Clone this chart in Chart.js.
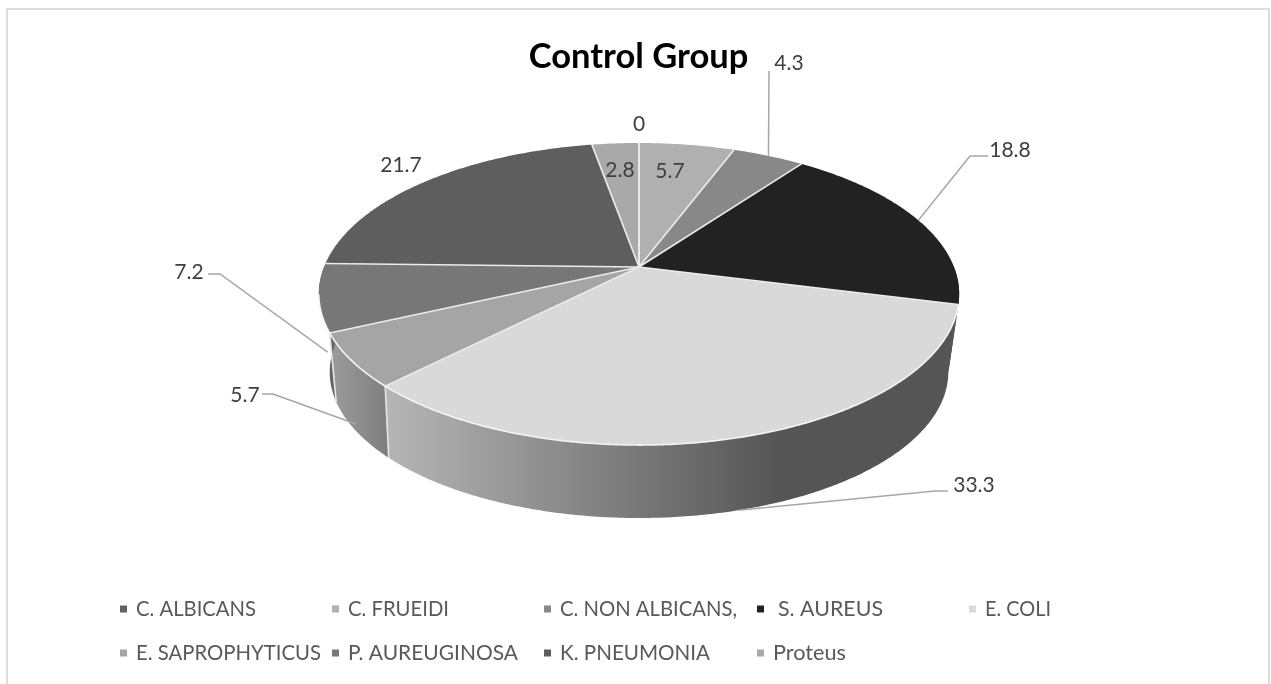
<!DOCTYPE html>
<html>
<head>
<meta charset="utf-8">
<title>Control Group</title>
<script src="https://cdn.jsdelivr.net/npm/chart.js@4"></script>
<style>
  html, body { margin: 0; padding: 0; background: #fff; overflow: hidden; }
  canvas { display: block; }
</style>
</head>
<body>
<canvas id="chart" width="1271" height="684"></canvas>
<script>
// Organism shares in the control group
const organisms = ['C. ALBICANS', 'C. FRUEIDI', 'C. NON ALBICANS,', 'S. AUREUS', 'E. COLI',
                   'E. SAPROPHYTICUS', 'P. AUREUGINOSA', 'K. PNEUMONIA', 'Proteus'];
const shares = [0, 5.7, 4.3, 18.8, 33.3, 5.7, 7.2, 21.7, 2.8];
const sliceColors = ['#636363', '#b0b0b0', '#888888', '#222222', '#d9d9d9',
                     '#a5a5a5', '#777777', '#5e5e5e', '#a9a9a9'];
// Side wall shading, left colour to right colour
const wallColors = [null, null, null, ['#333333', '#333333'], ['#b6b6b6', '#555555'],
                    ['#9c9c9c', '#7e7e7e'], ['#5a5a5a', '#707070'], null, null];

// Tilted disc projection; the wall bottom fans outward slightly as it recedes
const disc = { cx: 639, cy: 267, a: 315, b: 146.2, p: 0.179, drop: 79, shrink: 0.966, fan: 4 * Math.PI / 180 };

// Label placement: leader anchor (wall fraction), elbow points and text centre
const labelLayout = [
  { text: [639, 124] },
  { text: [670, 171] },
  { text: [789, 63], wall: 0, path: [[769, 71]] },
  { text: [1010, 150], wall: 0, path: [[970, 156], [988, 156]] },
  { text: [974, 485], wall: 1, path: [[935, 491], [948, 491]] },
  { text: [245, 395], wall: 0.9, path: [[273, 394], [262, 394]] },
  { text: [189, 272], wall: 0.8, path: [[220, 274], [208, 274]] },
  { text: [401, 165] },
  { text: [620, 170] }
];

// Legend grid
const legendCols = [120, 332, 544, 757, 969];
const legendRows = [609, 653];
const legendGaps = [16, 16, 16, 21, 16, 16, 16, 16, 16];
const legendWidths = [120, 101, 177, 105, 66, 185, 170, 150, 73];

const FONT = 'Lato, Carlito, sans-serif';

function project(theta, wall) {
  const lean = Math.pow(Math.sin(theta - Math.PI), 3);
  const t = theta + disc.fan * lean * wall;
  const u = Math.sin(t), v = -Math.cos(t);
  const s = 1 + (disc.shrink - 1) * wall;
  const w = 1 - disc.p * v;
  return [disc.cx + s * disc.a * u / w, disc.cy + disc.drop * wall + s * disc.b * v / w];
}

function sliceAngles(arc) {
  return [arc.startAngle + Math.PI / 2, arc.endAngle + Math.PI / 2];
}

function rimPath(ctx, from, to, wall, move) {
  const steps = Math.max(2, Math.ceil(Math.abs(to - from) / 0.01));
  for (let i = 0; i <= steps; i++) {
    const [x, y] = project(from + (to - from) * i / steps, wall);
    if (i === 0 && move) ctx.moveTo(x, y); else ctx.lineTo(x, y);
  }
}

function fittedText(ctx, text, x, y, width) {
  const natural = ctx.measureText(text).width;
  ctx.save();
  ctx.translate(x, y);
  ctx.scale(width / natural, 1);
  ctx.textAlign = 'left';
  ctx.fillText(text, 0, 0);
  ctx.restore();
}

const tiltedPie = {
  id: 'tiltedPie',
  beforeDraw(chart) {
    const ctx = chart.ctx;
    ctx.save();
    ctx.strokeStyle = '#dcdcdc';
    ctx.lineWidth = 2;
    ctx.beginPath();
    ctx.moveTo(7, 684); ctx.lineTo(7, 9); ctx.lineTo(1269, 9); ctx.lineTo(1269, 684);
    ctx.stroke();
    ctx.restore();
  },
  beforeDatasetDraw(chart) {
    const ctx = chart.ctx;
    const arcs = chart.getDatasetMeta(0).data;
    const front = [Math.PI / 2, Math.PI * 1.5];
    ctx.save();

    // Side walls of the near half
    arcs.forEach((arc, i) => {
      const [s, e] = sliceAngles(arc);
      const from = Math.max(s, front[0]), to = Math.min(e, front[1]);
      if (to <= from || !wallColors[i]) return;
      const xs = [project(from, 0)[0], project(to, 0)[0], project(from, 1)[0], project(to, 1)[0]];
      const grad = ctx.createLinearGradient(Math.min(...xs), 0, Math.min(Math.max(...xs), 780), 0);
      grad.addColorStop(0, wallColors[i][0]);
      grad.addColorStop(1, wallColors[i][1]);
      ctx.beginPath();
      rimPath(ctx, from, to, 0, true);
      rimPath(ctx, to, from, 1, false);
      ctx.closePath();
      ctx.fillStyle = grad;
      ctx.fill();
    });

    // Light seams where walls meet
    ctx.strokeStyle = '#e6e6e6';
    ctx.lineWidth = 1.6;
    arcs.forEach((arc) => {
      const [, e] = sliceAngles(arc);
      if (e <= Math.PI + 0.6 || e >= front[1] - 0.1) return;
      ctx.beginPath();
      ctx.moveTo(...project(e, 0));
      ctx.lineTo(...project(e, 1));
      ctx.stroke();
    });

    // Top face
    arcs.forEach((arc, i) => {
      const [s, e] = sliceAngles(arc);
      if (e - s <= 0) return;
      ctx.beginPath();
      ctx.moveTo(disc.cx, disc.cy);
      rimPath(ctx, s, e, 0, false);
      ctx.closePath();
      ctx.fillStyle = sliceColors[i];
      ctx.fill();
    });

    // Spokes between slices and the bright near rim
    ctx.strokeStyle = '#ececec';
    ctx.lineWidth = 1.6;
    arcs.forEach((arc) => {
      const [s] = sliceAngles(arc);
      ctx.beginPath();
      ctx.moveTo(disc.cx, disc.cy);
      ctx.lineTo(...project(s, 0));
      ctx.stroke();
    });
    ctx.strokeStyle = '#f4f4f4';
    ctx.beginPath();
    rimPath(ctx, 1.82, 4.53, 0, true);
    ctx.stroke();
    ctx.restore();
    return false;
  },
  afterDatasetsDraw(chart) {
    const ctx = chart.ctx;
    const arcs = chart.getDatasetMeta(0).data;
    ctx.save();

    // Leader lines
    ctx.strokeStyle = '#a6a6a6';
    ctx.lineWidth = 1.5;
    labelLayout.forEach((lab, i) => {
      if (!lab.path) return;
      const [s, e] = sliceAngles(arcs[i]);
      ctx.beginPath();
      ctx.moveTo(...project((s + e) / 2, lab.wall));
      lab.path.forEach(p => ctx.lineTo(p[0], p[1]));
      ctx.stroke();
    });

    // Value labels
    ctx.font = '21px ' + FONT;
    ctx.fillStyle = '#404040';
    ctx.textAlign = 'center';
    ctx.textBaseline = 'middle';
    shares.forEach((v, i) => {
      const [x, y] = labelLayout[i].text;
      ctx.fillText(String(v), x, y);
    });

    // Legend
    ctx.font = '21px ' + FONT;
    ctx.textBaseline = 'middle';
    organisms.forEach((name, i) => {
      const row = i < 5 ? 0 : 1;
      const x = legendCols[row ? i - 5 : i];
      const y = legendRows[row];
      ctx.fillStyle = sliceColors[i];
      ctx.fillRect(x, y - 3.5, 7, 7);
      ctx.fillStyle = '#595959';
      fittedText(ctx, name, x + legendGaps[i], y, legendWidths[i]);
    });
    ctx.restore();
  }
};

new Chart(document.getElementById('chart'), {
  type: 'pie',
  data: { labels: organisms, datasets: [{ data: shares, backgroundColor: sliceColors }] },
  plugins: [tiltedPie],
  options: {
    responsive: false,
    animation: false,
    events: [],
    layout: { padding: { left: 6 } },
    plugins: {
      legend: { display: false },
      tooltip: { enabled: false },
      title: {
        display: true,
        text: 'Control Group',
        color: '#000000',
        font: { family: FONT, size: 34.5, weight: 'bold' },
        padding: { top: 36, bottom: 0 }
      }
    }
  }
});
</script>
</body>
</html>
